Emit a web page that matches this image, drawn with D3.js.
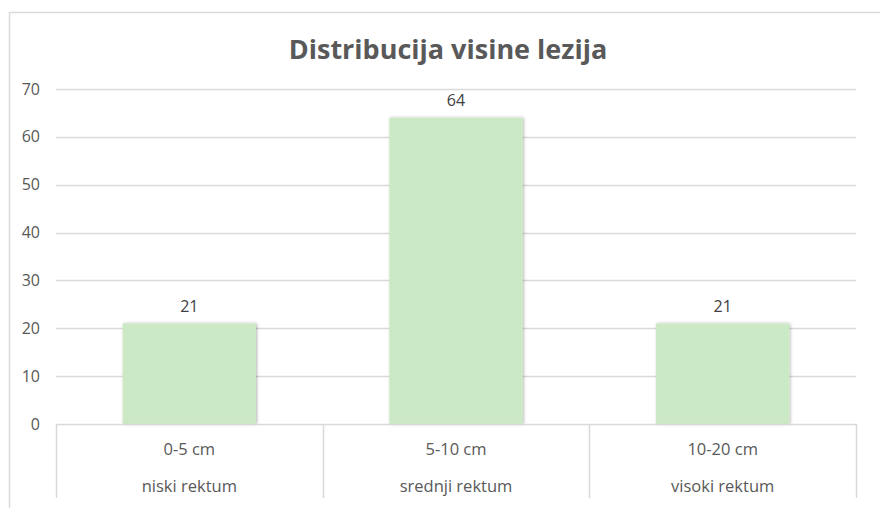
<!DOCTYPE html>
<html>
<head>
<meta charset="utf-8">
<script src="https://cdn.jsdelivr.net/npm/d3@7"></script>
<style>
  body { margin: 0; background: #fff; }
  svg { display: block; font-family: "Open Sans", sans-serif; }
</style>
</head>
<body>
<div id="chart"></div>
<script>
// Chart data
const categories = ['0-5 cm', '5-10 cm', '10-20 cm'];
const subLabels = ['niski rektum', 'srednji rektum', 'visoki rektum'];
const values = [21, 64, 21];
const yTicks = [0, 10, 20, 30, 40, 50, 60, 70];
const chartTitle = 'Distribucija visine lezija';

const width = 880, height = 508;
const margin = { left: 56, right: 24, top: 89, bottom: 84 };
const plotBottom = height - margin.bottom;
const fontFam = '"Open Sans", sans-serif';

const svg = d3.select('#chart')
    .append('svg')
    .attr('width', width)
    .attr('height', height);

const defs = svg.append('defs');
const shadow = defs.append('filter')
    .attr('id', 'shadow')
    .attr('x', '-10%').attr('y', '-10%')
    .attr('width', '120%').attr('height', '120%');
shadow.append('feDropShadow')
    .attr('dx', 1).attr('dy', 0)
    .attr('stdDeviation', 1.5)
    .attr('flood-color', '#000')
    .attr('flood-opacity', 0.3);

// chart area border (top + left only visible)
svg.append('path')
    .attr('d', `M 9.5 ${height} L 9.5 12.5 L ${width} 12.5`)
    .attr('fill', 'none')
    .attr('stroke', '#d9d9d9')
    .attr('stroke-width', 1.5);

const x = d3.scaleBand()
    .domain(categories)
    .range([margin.left, width - margin.right])
    .paddingInner(0)
    .paddingOuter(0);

const y = d3.scaleLinear()
    .domain([0, 70])
    .range([plotBottom, margin.top]);

// gridlines
svg.append('g')
    .selectAll('line')
    .data(yTicks.filter(t => t > 0))
    .enter()
    .append('line')
    .attr('x1', margin.left)
    .attr('x2', width - margin.right)
    .attr('y1', d => Math.round(y(d)) + 0.5)
    .attr('y2', d => Math.round(y(d)) + 0.5)
    .attr('stroke', '#d9d9d9')
    .attr('stroke-width', 1.3);

// y axis labels
const yAxis = svg.append('g')
    .attr('transform', `translate(${margin.left},0)`)
    .call(d3.axisLeft(y).tickValues(yTicks).tickSize(0).tickPadding(16));
yAxis.select('.domain').remove();
yAxis.selectAll('text')
    .attr('fill', '#595959')
    .attr('font-size', '16px')
    .attr('font-family', fontFam);

// bars
const barW = x.bandwidth() * 0.5;
svg.append('g')
    .selectAll('rect')
    .data(values)
    .enter()
    .append('rect')
    .attr('x', (d, i) => x(categories[i]) + (x.bandwidth() - barW) / 2)
    .attr('y', d => y(d))
    .attr('width', barW)
    .attr('height', d => y(0) - y(d))
    .attr('fill', '#cbe9c5')
    .attr('filter', 'url(#shadow)');

// value labels
svg.append('g')
    .selectAll('text')
    .data(values)
    .enter()
    .append('text')
    .attr('x', (d, i) => x(categories[i]) + x.bandwidth() / 2)
    .attr('y', d => y(d) - 12)
    .attr('text-anchor', 'middle')
    .attr('fill', '#404040')
    .attr('font-size', '16px')
    .text(d => d);

// category axis (multi-level table style)
const axisG = svg.append('g');
axisG.append('line')
    .attr('x1', margin.left).attr('x2', width - margin.right)
    .attr('y1', plotBottom + 0.5).attr('y2', plotBottom + 0.5)
    .attr('stroke', '#d9d9d9').attr('stroke-width', 1.5);

const edges = categories.map(c => x(c)).concat([x(categories[categories.length - 1]) + x.bandwidth()]);
axisG.selectAll('line.sep')
    .data(edges)
    .enter()
    .append('line')
    .attr('class', 'sep')
    .attr('x1', d => Math.round(d) + 0.5)
    .attr('x2', d => Math.round(d) + 0.5)
    .attr('y1', plotBottom)
    .attr('y2', plotBottom + 74)
    .attr('stroke', '#d9d9d9')
    .attr('stroke-width', 1.5);

axisG.selectAll('text.cat')
    .data(categories)
    .enter()
    .append('text')
    .attr('class', 'cat')
    .attr('x', d => x(d) + x.bandwidth() / 2)
    .attr('y', plotBottom + 31)
    .attr('text-anchor', 'middle')
    .attr('fill', '#595959')
    .attr('font-size', '16.5px')
    .text(d => d);

axisG.selectAll('text.sub')
    .data(subLabels)
    .enter()
    .append('text')
    .attr('class', 'sub')
    .attr('x', (d, i) => x(categories[i]) + x.bandwidth() / 2)
    .attr('y', plotBottom + 68)
    .attr('text-anchor', 'middle')
    .attr('fill', '#595959')
    .attr('font-size', '16.5px')
    .text(d => d);

// title
svg.append('text')
    .attr('x', 448)
    .attr('y', 59)
    .attr('text-anchor', 'middle')
    .attr('fill', '#595959')
    .attr('font-size', '27px')
    .attr('font-weight', 'bold')
    .text(chartTitle);
</script>
</body>
</html>
